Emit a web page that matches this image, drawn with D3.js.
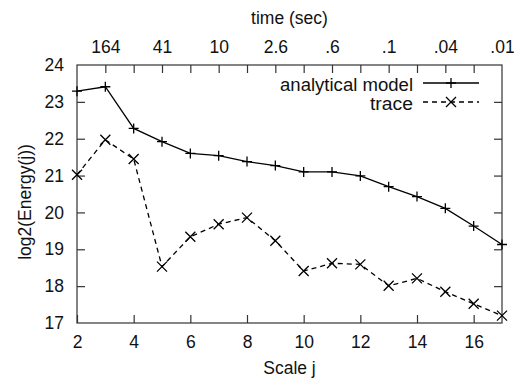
<!DOCTYPE html>
<html>
<head>
<meta charset="utf-8">
<script src="https://cdn.jsdelivr.net/npm/d3@7"></script>
<style>
  body { margin: 0; background: #fff; }
  text { font-family: "Liberation Sans", Arial, sans-serif; fill: #111; }
</style>
</head>
<body>
<svg id="chart"></svg>
<script>
// scale j values
const scales = [2, 3, 4, 5, 6, 7, 8, 9, 10, 11, 12, 13, 14, 15, 16, 17];
const modelEnergy = [23.29, 23.41, 22.28, 21.92, 21.60, 21.54, 21.38, 21.27, 21.10, 21.10, 20.99, 20.70, 20.43, 20.11, 19.63, 19.13];
const traceEnergy = [21.02, 21.97, 21.45, 18.53, 19.34, 19.68, 19.86, 19.23, 18.41, 18.62, 18.59, 18.01, 18.21, 17.85, 17.52, 17.20];
// top axis: time in seconds at odd scales
const timeTicks = [3, 5, 7, 9, 11, 13, 15, 17];
const timeLabels = ['164', '41', '10', '2.6', '.6', '.1', '.04', '.01'];

const width = 514, height = 381;
const margin = { top: 65, right: 12, bottom: 58, left: 77 };
const w = 502 - margin.left;
const h = 323 - margin.top;

const svg = d3.select('#chart').attr('width', width).attr('height', height);
const g = svg.append('g').attr('transform', `translate(${margin.left},${margin.top})`);

const x = d3.scaleLinear().domain([2, 17]).range([0, w]);
const y = d3.scaleLinear().domain([17, 24]).range([h, 0]);

const axisColor = '#333';
const fontSize = 17.5;

// frame
g.append('rect')
  .attr('width', w).attr('height', h)
  .attr('fill', 'none').attr('stroke', axisColor).attr('stroke-width', 1.2);

// bottom axis (ticks inward)
const bottomAxis = g.append('g').attr('transform', `translate(0,${h})`)
  .call(d3.axisBottom(x).tickValues(d3.range(2, 17, 2)).tickSizeInner(-8).tickSizeOuter(0).tickPadding(12.5));
// left axis
const leftAxis = g.append('g')
  .call(d3.axisLeft(y).tickValues(d3.range(17, 25)).tickSizeInner(-8).tickSizeOuter(0)
    .tickPadding(13).tickFormat(d3.format('d')));
// right axis
const rightAxis = g.append('g').attr('transform', `translate(${w},0)`)
  .call(d3.axisRight(y).tickValues(d3.range(17, 25)).tickSizeInner(-8).tickSizeOuter(0).tickFormat(''));
// top axis: time
const topAxis = g.append('g')
  .call(d3.axisTop(x).tickValues(d3.range(3, 17)).tickSizeInner(-8).tickSizeOuter(0).tickFormat(''));
const topLabels = g.append('g')
  .call(d3.axisTop(x).tickValues(timeTicks).tickSize(0).tickPadding(12)
    .tickFormat((d, i) => timeLabels[i]));

[bottomAxis, leftAxis, rightAxis, topAxis, topLabels].forEach(a => {
  a.attr('font-size', null).attr('font-family', null);
  a.select('.domain').remove();
  a.selectAll('line').attr('stroke', axisColor).attr('stroke-width', 1.2);
  a.selectAll('text').style('font-size', fontSize + 'px').attr('fill', '#111');
});
leftAxis.selectAll('line').filter(d => d === 17 || d === 24).remove();
rightAxis.selectAll('line').filter(d => d === 17 || d === 24).remove();

// axis titles
svg.append('text')
  .attr('x', margin.left + w / 2).attr('y', 374)
  .attr('text-anchor', 'middle').style('font-size', fontSize + 'px')
  .text('Scale j');
svg.append('text')
  .attr('x', margin.left + w / 2).attr('y', 24)
  .attr('text-anchor', 'middle').style('font-size', fontSize + 'px')
  .text('time (sec)');
svg.append('text')
  .attr('transform', `translate(31,202) rotate(-90)`)
  .attr('text-anchor', 'middle').style('font-size', fontSize + 'px')
  .text('log2(Energy(j))');

const line = d3.line().x(d => x(d[0])).y(d => y(d[1]));
const modelPts = scales.map((s, i) => [s, modelEnergy[i]]);
const tracePts = scales.map((s, i) => [s, traceEnergy[i]]);

g.append('path').datum(modelPts).attr('d', line)
  .attr('fill', 'none').attr('stroke', '#000').attr('stroke-width', 1.3);
g.append('path').datum(tracePts).attr('d', line)
  .attr('fill', 'none').attr('stroke', '#000').attr('stroke-width', 1.3)
  .attr('stroke-dasharray', '5,4');

function plus(sel, s) {
  sel.append('path')
    .attr('d', `M${-s},0H${s}M0,${-s}V${s}`)
    .attr('stroke', '#000').attr('stroke-width', 1.3).attr('fill', 'none');
}
function cross(sel, s) {
  sel.append('path')
    .attr('d', `M${-s},${-s}L${s},${s}M${-s},${s}L${s},${-s}`)
    .attr('stroke', '#000').attr('stroke-width', 1.3).attr('fill', 'none');
}

g.selectAll('.pm').data(modelPts).enter().append('g')
  .attr('class', 'pm')
  .attr('transform', d => `translate(${x(d[0])},${y(d[1])})`)
  .each(function () { plus(d3.select(this), 5); });
g.selectAll('.pt').data(tracePts).enter().append('g')
  .attr('class', 'pt')
  .attr('transform', d => `translate(${x(d[0])},${y(d[1])})`)
  .each(function () { cross(d3.select(this), 5); });

// legend
const legend = svg.append('g');
const items = [
  { name: 'analytical model', dash: null, mark: plus, y: 83, len: 133 },
  { name: 'trace', dash: '5,4', mark: cross, y: 102, len: 43 }
];
items.forEach(it => {
  legend.append('text')
    .attr('x', 413).attr('y', it.y + 8)
    .attr('text-anchor', 'end').style('font-size', fontSize + 'px')
    .attr('textLength', it.len).attr('lengthAdjust', 'spacingAndGlyphs')
    .text(it.name);
  legend.append('line')
    .attr('x1', 423).attr('x2', 479).attr('y1', it.y).attr('y2', it.y)
    .attr('stroke', '#000').attr('stroke-width', 1.3)
    .attr('stroke-dasharray', it.dash);
  const m = legend.append('g').attr('transform', `translate(451,${it.y})`);
  it.mark(m, 5);
});
</script>
</body>
</html>
